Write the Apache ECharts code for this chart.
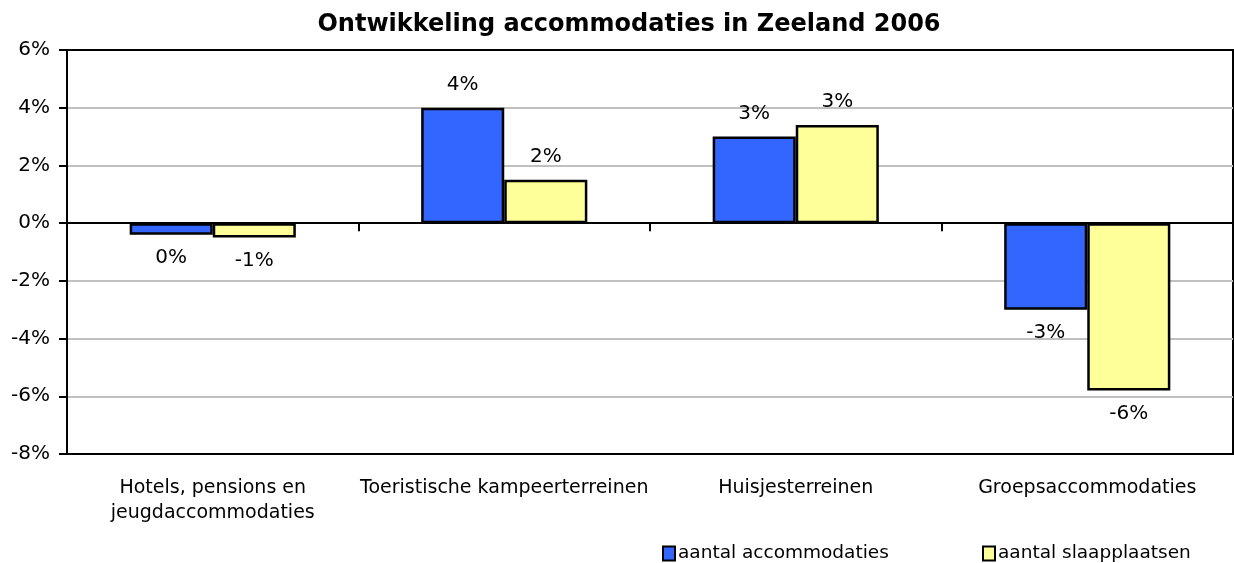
<!DOCTYPE html>
<html><head><meta charset="utf-8">
<script src="https://cdn.jsdelivr.net/npm/echarts@6/dist/echarts.min.js"></script>
<style>html,body{margin:0;padding:0;background:#fff}#c{width:1234px;height:563px}</style>
</head><body><div id="c"></div>
<script>
const categories = ['Hotels, pensions en\njeugdaccommodaties', 'Toeristische kampeerterreinen', 'Huisjesterreinen', 'Groepsaccommodaties'];
const accommodaties = [-0.4, 4.0, 3.0, -3.0];
const slaapplaatsen = [-0.5, 1.5, 3.4, -5.8];
const seriesNames = ['aantal accommodaties', 'aantal slaapplaatsen'];
const titleText = 'Ontwikkeling accommodaties in Zeeland 2006';

const FONT = 'DejaVu Sans';
function fmt(v){ const r = Math.sign(v)*Math.round(Math.abs(v)); return String(r) + '%'; }
function mk(vals){
  return vals.map(v => ({ value: v, label: { position: v < 0 ? 'bottom' : 'top' } }));
}
const chart = echarts.init(document.getElementById('c'));
chart.setOption({
  animation: false,
  backgroundColor: '#fff',
  title: { text: titleText, left: 624, textAlign: 'center', top: 8,
    textStyle: { fontFamily: FONT, fontWeight: 'bold', fontSize: 24, color: '#000' } },
  legend: [
    { data: [seriesNames[0]], left: 657, top: 539, itemWidth: 12, itemHeight: 14, itemGap: 4, icon: 'rect',
      itemStyle: { borderColor: '#000', borderWidth: 2 },
      textStyle: { fontFamily: FONT, fontSize: 18.5, color: '#000', padding: [0,0,0,-2] } },
    { data: [seriesNames[1]], left: 977, top: 539, itemWidth: 12, itemHeight: 14, itemGap: 4, icon: 'rect',
      itemStyle: { borderColor: '#000', borderWidth: 2 },
      textStyle: { fontFamily: FONT, fontSize: 18.5, color: '#000', padding: [0,0,0,-2] } }
  ],
  grid: { left: 67, right: 1, top: 50, bottom: 109, show: true, borderColor: '#000', borderWidth: 2, backgroundColor: 'transparent' },
  xAxis: [
    { type: 'category', data: categories, position: 'bottom', axisLine: { onZero: false, lineStyle: { color: '#000', width: 2 } },
      axisTick: { show: false }, axisLabel: { margin: 22, fontFamily: FONT, fontSize: 19, color: '#000', lineHeight: 25, interval: 0 } },
    { type: 'category', data: categories, position: 'bottom', axisLine: { onZero: true, lineStyle: { color: '#000', width: 2 } },
      axisTick: { show: true, length: 8, inside: false, lineStyle: { color: '#000', width: 2 } }, axisLabel: { show: false } }
  ],
  yAxis: { type: 'value', min: -8, max: 6, interval: 2,
    axisLine: { show: true, lineStyle: { color: '#000', width: 2 } },
    axisTick: { show: true, length: 8, lineStyle: { color: '#000', width: 2 } },
    axisLabel: { formatter: '{value}%', margin: 17, fontFamily: FONT, fontSize: 20, color: '#000' },
    splitLine: { show: true, lineStyle: { color: ['#000','#c0c0c0','#c0c0c0','#c0c0c0','#000','#c0c0c0','#c0c0c0','#000'], width: 2 } } },
  series: [
    { name: seriesNames[0], type: 'bar', xAxisIndex: 0, data: mk(accommodaties), barGap: '0%', barCategoryGap: '43%',
      itemStyle: { color: '#3366FF', borderColor: '#000', borderWidth: 2.5 },
      label: { show: true, distance: 13, formatter: p => fmt(p.value), fontFamily: FONT, fontSize: 20, color: '#000' } },
    { name: seriesNames[1], type: 'bar', xAxisIndex: 0, data: mk(slaapplaatsen), barGap: '0%', barCategoryGap: '43%',
      itemStyle: { color: '#FFFF99', borderColor: '#000', borderWidth: 2.5 },
      label: { show: true, distance: 13, formatter: p => fmt(p.value), fontFamily: FONT, fontSize: 20, color: '#000' } }
  ]
});
</script></body></html>
